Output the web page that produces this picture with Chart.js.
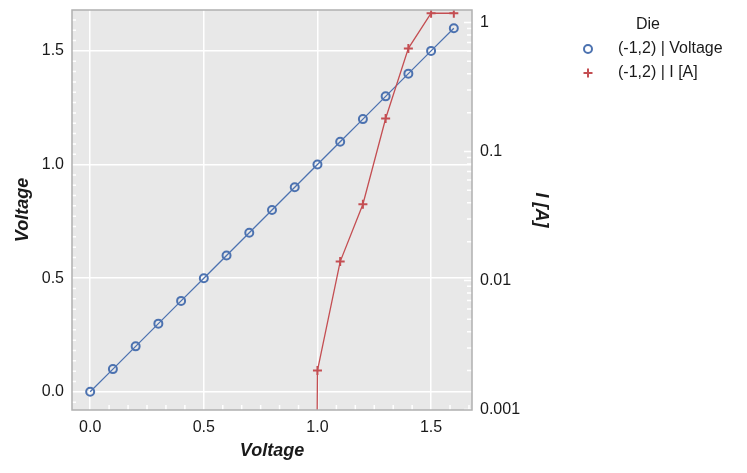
<!DOCTYPE html>
<html>
<head>
<meta charset="utf-8">
<title>Voltage / I [A]</title>
<script src="https://cdn.jsdelivr.net/npm/chart.js@4.4.1/dist/chart.umd.min.js"></script>
<style>
  html, body { margin: 0; padding: 0; background: #fff; }
  #wrap { width: 747px; height: 473px; }
</style>
</head>
<body>
<div id="wrap"><canvas id="ivCanvas" width="747" height="473"></canvas></div>
<script>
// values
const sweepVoltage = [0.0, 0.1, 0.2, 0.3, 0.4, 0.5, 0.6, 0.7, 0.8, 0.9, 1.0, 1.1, 1.2, 1.3, 1.4, 1.5, 1.6];
const measuredVoltage = [0.0, 0.1, 0.2, 0.3, 0.4, 0.5, 0.6, 0.7, 0.8, 0.9, 1.0, 1.1, 1.2, 1.3, 1.4, 1.5, 1.6];
// current is zero below 1.0 V (clipped off the log axis)
const currentA = [0, 0, 0, 0, 0, 0, 0, 0, 0, 0, 0.002, 0.014, 0.039, 0.18, 0.63, 1.18, 1.18];

const xTickValues = [0, 0.5, 1.0, 1.5];
const yTickValues = [0, 0.5, 1.0, 1.5];
const currentTickValues = [0.001, 0.01, 0.1, 1];

const legendTitle = "Die";
const seriesLabels = ["(-1,2) | Voltage", "(-1,2) | I [A]"];

const BLUE = "#4C72B0";
const RED = "#C44E52";
const TEXT = "#1a1a1a";
const FONT = "'Liberation Sans', Arial, sans-serif";

// zero can't sit on a log axis: push it far below the bottom so the line drops straight out
const LOG_FLOOR = 1e-30;

const voltagePoints = sweepVoltage.map((v, i) => ({ x: v, y: measuredVoltage[i] }));
const currentPoints = sweepVoltage.map((v, i) => ({ x: v, y: currentA[i] > 0 ? currentA[i] : LOG_FLOOR }));

// grey panel, white minor ticks, frame
const panelPlugin = {
  id: "panelPlugin",
  beforeDraw(chart) {
    const { ctx, chartArea: a } = chart;
    ctx.save();
    ctx.fillStyle = "#e8e8e8";
    ctx.fillRect(a.left, a.top, a.right - a.left, a.bottom - a.top);
    ctx.restore();
  },
  beforeDatasetsDraw(chart) {
    const { ctx, chartArea: a, scales } = chart;
    ctx.save();
    ctx.strokeStyle = "#ffffff";
    ctx.lineWidth = 1.5;
    ctx.beginPath();

    // left axis minor ticks
    const yStep = 0.5 / 11;
    for (let i = -1; i <= 36; i++) {
      if (i % 11 === 0) continue;
      const py = scales.y.getPixelForValue(i * yStep);
      ctx.moveTo(a.left, py);
      ctx.lineTo(a.left + 4, py);
    }

    // bottom axis minor ticks
    const xStep = 0.5 / 6;
    for (let i = 0; i <= 20; i++) {
      if (i % 6 === 0) continue;
      const px = scales.x.getPixelForValue(i * xStep);
      ctx.moveTo(px, a.bottom);
      ctx.lineTo(px, a.bottom - 5);
    }

    // right log axis ticks
    [0.001, 0.01, 0.1, 1].forEach(dec => {
      for (let m = 1; m <= 9; m++) {
        const v = dec * m;
        if (v < scales.y2.min || v > scales.y2.max) continue;
        const py = scales.y2.getPixelForValue(v);
        ctx.moveTo(a.right, py);
        ctx.lineTo(a.right - (m === 1 ? 8 : 5), py);
      }
    });
    ctx.stroke();
    ctx.restore();
  },
  afterDraw(chart) {
    const { ctx, chartArea: a } = chart;
    ctx.save();
    ctx.strokeStyle = "#b0b0b0";
    ctx.lineWidth = 1.5;
    ctx.strokeRect(a.left, a.top, a.right - a.left, a.bottom - a.top);
    ctx.restore();
  }
};

// legend sits outside the plot on the right, title centred over the entries
const sideLegend = {
  id: "sideLegend",
  afterDraw(chart) {
    const { ctx } = chart;
    const markerX = 588;
    const textX = 618;
    ctx.save();
    ctx.font = `16px ${FONT}`;
    ctx.fillStyle = TEXT;
    ctx.textBaseline = "middle";
    ctx.textAlign = "center";
    ctx.fillText(legendTitle, 648, 25);
    ctx.textAlign = "left";

    chart.data.datasets.forEach((ds, i) => {
      const y = 49 + i * 24;
      ctx.strokeStyle = ds.borderColor;
      ctx.lineWidth = 2;
      ctx.beginPath();
      if (ds.pointStyle === "circle") {
        ctx.arc(markerX, y, 4, 0, Math.PI * 2);
      } else {
        ctx.moveTo(markerX - 4.5, y);
        ctx.lineTo(markerX + 4.5, y);
        ctx.moveTo(markerX, y - 4.5);
        ctx.lineTo(markerX, y + 4.5);
      }
      ctx.stroke();
      ctx.fillStyle = TEXT;
      ctx.fillText(ds.label, textX, y);
    });
    ctx.restore();
  }
};

const titleFont = { family: FONT, size: 18, weight: "bold", style: "italic" };
const tickFont = { family: FONT, size: 16 };

// fixed axis boxes so the plot area lands where the reference has it
function fixWidth(w) {
  return s => { s.width = w; s.paddingTop = 0; s.paddingBottom = 0; };
}

new Chart(document.getElementById("ivCanvas").getContext("2d"), {
  type: "line",
  data: {
    datasets: [
      {
        label: seriesLabels[0],
        data: voltagePoints,
        yAxisID: "y",
        borderColor: BLUE,
        backgroundColor: "rgba(0,0,0,0)",
        borderWidth: 1.3,
        pointStyle: "circle",
        pointRadius: 4,
        pointBorderWidth: 2,
        pointBorderColor: BLUE,
        pointBackgroundColor: "rgba(0,0,0,0)",
        tension: 0,
        order: 1
      },
      {
        label: seriesLabels[1],
        data: currentPoints,
        yAxisID: "y2",
        borderColor: RED,
        backgroundColor: RED,
        borderWidth: 1.3,
        pointStyle: "cross",
        pointRadius: 4.5,
        pointBorderWidth: 2,
        pointBorderColor: RED,
        tension: 0,
        order: 0
      }
    ]
  },
  options: {
    responsive: false,
    animation: false,
    devicePixelRatio: 1,
    layout: { padding: { left: 0, top: 10, right: 187, bottom: 0 } },
    plugins: {
      legend: { display: false },
      tooltip: { enabled: false }
    },
    scales: {
      x: {
        type: "linear",
        position: "bottom",
        min: -0.08,
        max: 1.68,
        afterBuildTicks: s => { s.ticks = xTickValues.map(v => ({ value: v })); },
        afterFit: s => { s.height = 63; s.paddingLeft = 0; s.paddingRight = 0; },
        ticks: { font: tickFont, color: TEXT, padding: 8, maxRotation: 0, callback: v => v.toFixed(1) },
        grid: { color: "#ffffff", lineWidth: 1.5, drawTicks: false },
        border: { display: false },
        title: { display: true, text: "Voltage", font: titleFont, color: TEXT, padding: { top: 0, bottom: 11 } }
      },
      y: {
        type: "linear",
        position: "left",
        min: -0.08,
        max: 1.68,
        afterBuildTicks: s => { s.ticks = yTickValues.map(v => ({ value: v })); },
        afterFit: fixWidth(72),
        ticks: { font: tickFont, color: TEXT, padding: 8, callback: v => v.toFixed(1) },
        grid: { color: "#ffffff", lineWidth: 1.5, drawTicks: false },
        border: { display: false },
        title: { display: true, text: "Voltage", font: titleFont, color: TEXT, padding: { top: 12, bottom: 0 } }
      },
      y2: {
        type: "logarithmic",
        position: "right",
        min: 0.00099,
        max: 1.25,
        afterBuildTicks: s => { s.ticks = currentTickValues.map(v => ({ value: v })); },
        afterFit: fixWidth(88),
        ticks: { font: tickFont, color: TEXT, padding: 8, callback: v => String(v) },
        grid: { display: false, drawTicks: false },
        border: { display: false },
        title: { display: true, text: "I [A]", font: titleFont, color: TEXT, padding: { top: 8, bottom: 0 } }
      }
    }
  },
  plugins: [panelPlugin, sideLegend]
});
</script>
</body>
</html>
